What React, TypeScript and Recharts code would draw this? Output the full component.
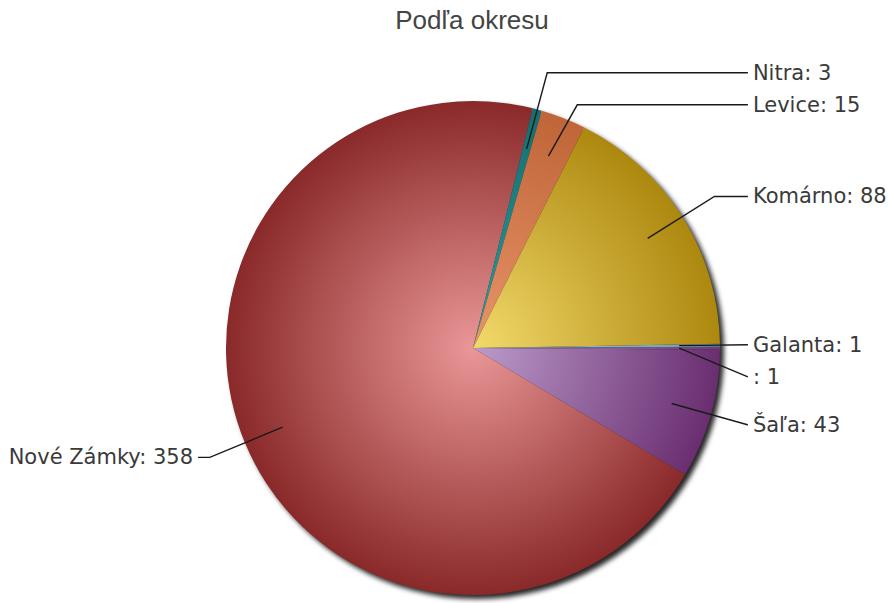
import React from "react";
import { PieChart, Pie, Cell } from "recharts";

// okresy v poradí kreslenia (v smere hodinových ručičiek od 3. hodiny)
const categories = ["Galanta", "", "Šaľa", "Nové Zámky", "Nitra", "Levice", "Komárno"];
const counts = [1, 1, 43, 358, 3, 15, 88];
const centerColors = ["#9fd0e0", "#a98cc0", "#bb9bcb", "#ea9797", "#2a9c9c", "#e8956a", "#f3da6c"];
const edgeColors = ["#5f9fb8", "#6e3a78", "#6a2e70", "#8a2929", "#136e70", "#bf6538", "#ad880f"];

const W = 889;
const H = 603;
const CX = 473;
const CY = 348;
const R = 247;
const START = 1;
const LABEL_GAP = 32;

const data = categories.map((name, i) => ({ name, value: counts[i] }));
const total = counts.reduce((a, b) => a + b, 0);

// stredové uhly výsečí, rovnako ako ich počíta Recharts
const midAngles: number[] = [];
{
  let a = START;
  counts.forEach((v) => {
    const span = (v / total) * 360;
    midAngles.push(a - span / 2);
    a -= span;
  });
}

// posun popisiek, aby sa neprekrývali
const labelY: number[] = new Array(counts.length).fill(0);
[1, -1].forEach((side) => {
  const idx = midAngles
    .map((m, i) => ({ i, c: Math.cos((m * Math.PI) / 180), y: CY - 1.154 * R * Math.sin((m * Math.PI) / 180) }))
    .filter((d) => Math.sign(d.c) === side)
    .sort((a, b) => a.y - b.y);
  let prev = -Infinity;
  idx.forEach((d) => {
    const y = Math.max(d.y, prev + LABEL_GAP);
    labelY[d.i] = y;
    prev = y;
  });
});

const renderLabel = (props: any) => {
  const { cx, cy, midAngle, outerRadius, index, name, value } = props;
  const rad = (-midAngle * Math.PI) / 180;
  const cos = Math.cos(rad);
  const sin = Math.sin(rad);
  const sx = cx + outerRadius * 0.835 * cos;
  const sy = cy + outerRadius * 0.835 * sin;
  const right = cos >= 0;
  const endX = cx + (right ? 1 : -1) * outerRadius * 1.113;
  let ex = cx + outerRadius * 1.154 * cos;
  if (right) ex = Math.min(ex, endX);
  else ex = Math.max(ex, endX);
  const ey = labelY[index];
  return (
    <g>
      <polyline
        points={`${sx},${sy} ${ex},${ey} ${endX},${ey}`}
        fill="none"
        stroke="#1a1a1a"
        strokeWidth={1.4}
      />
      <text
        x={endX + (right ? 5 : -5)}
        y={ey}
        textAnchor={right ? "start" : "end"}
        dominantBaseline="central"
        fill="#3a3a3a"
        style={{ fontFamily: "DejaVu Sans", fontSize: 21 }}
      >
        {`${name}: ${value}`}
      </text>
    </g>
  );
};

export default function App() {
  return (
    <div style={{ position: "relative", width: W, height: H, background: "#fff" }}>
      <style>{"body{margin:0}"}</style>
      <svg width={0} height={0} style={{ position: "absolute" }}>
        <defs>
          {centerColors.map((c, i) => (
            <radialGradient
              key={i}
              id={`grad${i}`}
              gradientUnits="userSpaceOnUse"
              cx={CX}
              cy={CY}
              r={R}
            >
              <stop offset="0%" stopColor={c} />
              <stop offset="100%" stopColor={edgeColors[i]} />
            </radialGradient>
          ))}
          <filter id="shadowBlur" x="-10%" y="-10%" width="120%" height="120%">
            <feGaussianBlur stdDeviation="2.5" />
          </filter>
        </defs>
      </svg>
      <div
        style={{
          position: "absolute",
          left: 472,
          top: 4,
          transform: "translateX(-50%)",
          fontFamily: "Liberation Sans",
          fontSize: 26,
          lineHeight: "32px",
          color: "#444",
          whiteSpace: "nowrap",
        }}
      >
        Podľa okresu
      </div>
      <PieChart width={W} height={H} margin={{ top: 0, right: 0, bottom: 0, left: 0 }}>
        <Pie
          data={[{ name: "shadow", value: total }]}
          dataKey="value"
          cx={CX + 4}
          cy={CY + 4}
          outerRadius={R}
          stroke="none"
          isAnimationActive={false}
        >
          <Cell fill="rgba(0,0,0,0.85)" filter="url(#shadowBlur)" />
        </Pie>
        <Pie
          data={data}
          dataKey="value"
          nameKey="name"
          cx={CX}
          cy={CY}
          outerRadius={R}
          startAngle={START}
          endAngle={START - 360}
          stroke="none"
          label={renderLabel}
          labelLine={false}
          isAnimationActive={false}
        >
          {data.map((d, i) => (
            <Cell key={d.name + i} fill={`url(#grad${i})`} />
          ))}
        </Pie>
      </PieChart>
    </div>
  );
}
